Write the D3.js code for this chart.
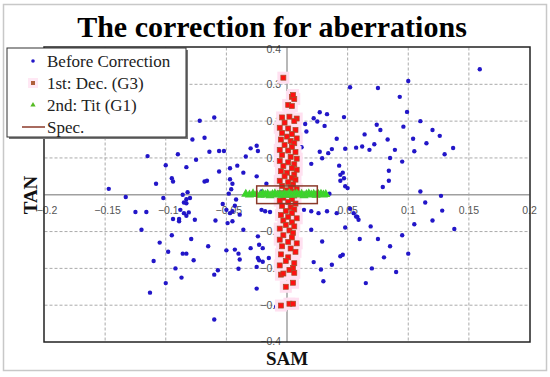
<!DOCTYPE html>
<html>
<head>
<meta charset="utf-8">
<script src="https://cdn.jsdelivr.net/npm/d3@7"></script>
<style>
  body { margin: 0; background: #fff; }
  svg { display: block; }
</style>
</head>
<body>
<div id="chart"></div>
<script>
// Tick values
const xTicks = [-0.2, -0.15, -0.1, -0.05, 0, 0.05, 0.1, 0.15, 0.2];
const yTicks = [-0.4, -0.3, -0.2, -0.1, 0, 0.1, 0.2, 0.3, 0.4];

// Before Correction (SAM, TAN)
const beforePts = [
  [-0.072,0.201],[-0.060,0.210],[-0.064,0.117],[-0.056,0.119],[-0.052,0.119],[-0.083,0.075],[-0.056,0.063],
  [-0.047,0.072],[-0.041,0.079],[-0.036,0.060],[-0.034,0.104],[-0.030,0.126],[-0.025,0.133],[-0.024,0.119],
  [-0.025,0.050],[-0.068,0.036],[-0.066,0.038],[-0.047,0.042],[-0.045,0.030],[-0.046,0.015],[-0.048,0.003],
  [-0.086,0.0],[-0.083,-0.012],[-0.085,-0.021],[-0.030,0.0],[-0.021,0.009],[-0.017,0.030],
  [0.052,0.292],[0.027,0.224],[0.033,0.219],[0.022,0.208],[0.025,0.199],[0.031,0.187],[0.015,0.192],
  [0.016,0.172],[0.047,0.211],[0.041,0.152],[0.074,0.190],[0.064,0.164],[0.072,0.137],[0.068,0.122],
  [0.062,0.131],[0.057,0.128],[0.048,0.125],[0.037,0.124],[0.034,0.113],[0.027,0.117],[0.012,0.129],
  [0.029,0.099],[0.020,0.084],[0.043,0.079],[0.046,0.060],[0.044,0.054],[0.047,0.045],[0.044,0.038],
  [0.048,0.023],[0.050,0.018],[0.035,0.003],
  [-0.080,-0.009],[-0.083,-0.023],[-0.085,-0.050],[-0.083,-0.057],[-0.089,-0.072],[-0.079,-0.120],
  [-0.086,-0.160],[-0.083,-0.160],[-0.077,-0.178],[-0.060,-0.217],[-0.057,-0.205],[-0.065,-0.140],
  [-0.060,-0.339],[-0.053,-0.025],[-0.050,-0.041],[-0.047,-0.050],[-0.045,-0.045],[-0.043,-0.030],
  [-0.042,-0.013],[-0.039,-0.054],[-0.049,-0.077],[-0.045,-0.072],[-0.059,-0.070],[-0.036,-0.095],
  [-0.050,-0.151],[-0.043,-0.149],[-0.040,-0.160],[-0.039,-0.176],[-0.040,-0.201],[-0.030,-0.145],
  [-0.024,-0.113],[-0.023,-0.136],[-0.020,-0.145],[-0.024,-0.172],[-0.023,-0.178],[-0.020,-0.182],
  [-0.025,-0.196],[-0.015,-0.172],[-0.025,-0.255],[-0.021,-0.041],[-0.018,-0.045],[-0.014,-0.047],
  [-0.009,-0.304],
  [0.020,-0.045],[0.026,-0.050],[0.014,-0.041],[0.033,-0.045],[0.041,-0.050],[0.020,-0.095],[0.029,-0.127],
  [0.048,-0.089],[0.058,-0.060],[0.059,-0.068],[0.052,-0.038],[0.055,-0.050],[0.069,-0.086],[0.060,-0.120],
  [0.046,-0.163],[0.044,-0.167],[0.037,-0.190],[0.028,-0.203],[0.022,-0.183],[0.030,-0.235],
  [-0.147,0.016],[-0.133,-0.006],[-0.125,-0.047],[-0.116,-0.047],[-0.102,-0.009],[-0.094,0.036],
  [-0.082,0.007],[-0.088,-0.041],[-0.081,-0.048],[-0.094,-0.066],[-0.089,-0.066],[-0.076,-0.068],
  [0.084,0.065],[0.084,0.038],[0.079,0.021],[0.110,0.009],[0.127,-0.003],[0.114,-0.021],[0.128,-0.043],
  [0.057,-0.059],[0.138,-0.093],
  [0.159,0.341],[0.100,0.309],[0.075,0.290],[0.093,0.266],[0.099,0.225],[0.110,0.200],[0.120,0.176],
  [0.126,0.160],[0.137,0.127],[0.089,0.122],[0.077,0.176],[0.083,0.150],[0.096,0.185],[0.104,0.152],
  [0.115,0.140],[0.085,0.100],[0.095,0.090],[0.105,0.118],[0.130,0.110],
  [-0.115,0.105],[-0.100,0.080],[-0.095,0.045],[-0.108,0.030],[-0.090,0.110],[-0.078,0.150],
  [-0.068,0.155],[-0.075,0.095],
  [-0.113,-0.266],[-0.095,-0.110],[-0.105,-0.130],[-0.098,-0.155],[-0.110,-0.180],[-0.092,-0.200],
  [-0.120,-0.095],[-0.100,-0.240],[-0.087,-0.225],
  [0.075,-0.120],[0.085,-0.140],[0.095,-0.110],[0.080,-0.170],[0.070,-0.200],[0.100,-0.160],
  [0.090,-0.210],[0.065,-0.240],[0.105,-0.080],[0.120,-0.070]
];

// 1st: Dec. (G3)
const decPts = [
  [-0.003,0.318],[0.004,0.266],[0.006,0.260],[0.005,0.271],[0.001,0.244],[0.004,0.241],[-0.004,0.210],
  [0.002,0.212],[0.008,0.207],[-0.002,0.196],[0.006,0.200],[-0.006,0.182],[0.001,0.180],[0.007,0.176],
  [-0.004,0.168],[0.004,0.165],[0.000,0.158],[0.008,0.153],[-0.005,0.150],[0.003,0.146],[0.006,0.140],
  [-0.002,0.135],[0.004,0.130],[-0.006,0.122],[0.001,0.120],[0.007,0.116],[-0.004,0.108],[0.003,0.103],
  [0.008,0.098],[-0.006,0.092],[0.001,0.088],[0.006,0.083],[-0.003,0.078],[0.004,0.072],[0.008,0.068],
  [-0.005,0.064],[0.000,0.060],[0.006,0.055],[-0.002,0.050],[0.004,0.046],[0.007,0.041],[-0.006,0.038],
  [0.001,0.034],[0.005,0.028],[-0.004,0.024],[0.003,0.020],[0.008,0.015],[-0.001,0.012],[0.004,0.008],
  [-0.005,0.004],[0.001,0.000],[0.006,-0.002],
  [-0.003,-0.008],[0.004,-0.012],[-0.006,-0.016],[0.001,-0.020],[0.007,-0.024],[-0.004,-0.030],
  [0.003,-0.034],[0.006,-0.040],[-0.001,-0.044],[0.004,-0.050],[-0.005,-0.055],[0.001,-0.060],
  [0.008,-0.064],[-0.003,-0.070],[0.004,-0.075],[-0.001,-0.082],[0.006,-0.086],[-0.006,-0.092],
  [0.002,-0.097],[0.005,-0.104],[-0.003,-0.110],[0.004,-0.116],[-0.006,-0.122],[0.001,-0.128],
  [0.008,-0.132],[-0.004,-0.140],[0.003,-0.146],[0.007,-0.155],[-0.005,-0.162],[0.001,-0.170],
  [-0.001,-0.180],[0.006,-0.186],[-0.006,-0.192],[0.005,-0.199],[0.002,-0.204],[-0.005,-0.217],
  [-0.003,-0.214],[0.006,-0.212],[0.005,-0.239],[-0.001,-0.250],[0.002,-0.296],[0.005,-0.296],
  [-0.005,-0.301]
];

// 2nd: Tit (G1)
const titPts = [
  [-0.034,0.002],[-0.031,0.000],[-0.028,0.003],[-0.025,0.001],[-0.022,-0.001],[-0.020,0.003],
  [-0.018,0.000],[-0.016,0.002],[-0.014,-0.002],[-0.012,0.001],[-0.010,0.003],[-0.008,0.000],
  [-0.006,0.002],[-0.004,-0.001],[-0.002,0.002],[0.000,0.000],[0.002,0.003],[0.004,-0.001],
  [0.006,0.001],[0.008,0.003],[0.010,0.000],[0.012,0.002],[0.014,-0.002],[0.016,0.001],
  [0.018,0.003],[0.020,0.000],[0.022,0.002],[0.024,-0.001],[0.026,0.001],[0.028,0.002],
  [0.030,0.000],[0.032,0.001]
];

// Spec. box (SAM, TAN limits)
const specX = [-0.025, 0.025];
const specY = [-0.024, 0.024];

const legendItems = ["Before Correction", "1st: Dec. (G3)", "2nd: Tit (G1)", "Spec."];

const W = 550, H = 377;
const svg = d3.select("#chart").append("svg").attr("width", W).attr("height", H);

// outer frame
svg.append("rect").attr("x", 3.5).attr("y", 4.5).attr("width", 543).attr("height", 366)
    .attr("fill", "#fff").attr("stroke", "#c8c8c8").attr("stroke-width", 1.5);

const x = d3.scaleLinear().domain([-0.2, 0.2]).range([44.5, 529.5]);
const y = d3.scaleLinear().domain([-0.4, 0.4]).range([342, 47.5]);

// grid
const grid = svg.append("g");
grid.selectAll(".gx").data(xTicks.slice(1, -1).filter(d => d !== 0)).join("line")
    .attr("x1", d => x(d)).attr("x2", d => x(d)).attr("y1", y(0.4)).attr("y2", y(-0.4))
    .attr("stroke", "#aaa").attr("stroke-dasharray", "3,2");
grid.selectAll(".gy").data(yTicks.slice(1, -1).filter(d => d !== 0)).join("line")
    .attr("y1", d => y(d)).attr("y2", d => y(d)).attr("x1", x(-0.2)).attr("x2", x(0.2))
    .attr("stroke", "#aaa").attr("stroke-dasharray", "3,2");

// zero axes
svg.append("line").attr("x1", x(-0.2)).attr("x2", x(0.2)).attr("y1", y(0)).attr("y2", y(0))
    .attr("stroke", "#a0a0a0").attr("stroke-width", 1.5);
svg.append("line").attr("x1", x(0)).attr("x2", x(0)).attr("y1", y(0.4)).attr("y2", y(-0.4))
    .attr("stroke", "#a0a0a0").attr("stroke-width", 1.5);

// tick labels
const fmt = d => d === 0 ? "0" : d3.format("")(d);
svg.append("g").selectAll("text").data(xTicks.filter(d => d !== 0)).join("text")
    .attr("x", d => x(d) + (d < 0 ? 2.5 : 0)).attr("y", y(0) + 19)
    .attr("text-anchor", "middle")
    .attr("font-family", "Liberation Sans, Arial, sans-serif").attr("font-size", 10.5)
    .attr("fill", "#555").text(fmt);
svg.append("g").selectAll("text").data(yTicks).join("text")
    .attr("x", x(0) - 6).attr("y", d => y(d) + (d === 0.4 ? 2 : d === -0.4 ? -1 : 0)).attr("dy", "0.35em")
    .attr("text-anchor", "end")
    .attr("font-family", "Liberation Sans, Arial, sans-serif").attr("font-size", 10.5)
    .attr("fill", "#555").text(fmt);

// before correction
svg.append("g").selectAll("circle").data(beforePts).join("circle")
    .attr("cx", d => x(d[0])).attr("cy", d => y(d[1])).attr("r", 2.2)
    .attr("fill", "#2216c8");

// dec: pink halo then squares
svg.append("g").selectAll("rect").data(decPts).join("rect")
    .attr("x", d => x(d[0]) - 6).attr("y", d => y(d[1]) - 6).attr("width", 12).attr("height", 12)
    .attr("fill", "#ffe0f0");
svg.append("g").selectAll("rect").data(decPts).join("rect")
    .attr("x", d => x(d[0]) - 2.5).attr("y", d => y(d[1]) - 2.5).attr("width", 5).attr("height", 5)
    .attr("fill", "#ff1010").attr("stroke", "#a0522d").attr("stroke-width", 0.7);

// tit: triangles
const tri = d3.symbol().type(d3.symbolTriangle).size(22);
svg.append("g").selectAll("path").data(titPts).join("path")
    .attr("transform", d => `translate(${x(d[0])},${y(d[1])})`)
    .attr("d", tri).attr("fill", "#33dd22").attr("stroke", "#44cc33").attr("stroke-width", 1.2);

// spec box
svg.append("rect")
    .attr("x", x(specX[0])).attr("y", y(specY[1]))
    .attr("width", x(specX[1]) - x(specX[0])).attr("height", y(specY[0]) - y(specY[1]))
    .attr("fill", "none").attr("stroke", "#8b3a2a").attr("stroke-width", 1.5);

// plot frame
svg.append("rect").attr("x", 44).attr("y", 47).attr("width", 486).attr("height", 295)
    .attr("fill", "none").attr("stroke", "#222").attr("stroke-width", 1.5);

// title and axis titles
svg.append("text").attr("x", 272).attr("y", 37).attr("text-anchor", "middle")
    .attr("font-family", "Liberation Serif, Times New Roman, serif").attr("font-weight", "bold")
    .attr("font-size", 30).attr("fill", "#000").text("The correction for aberrations");
svg.append("text").attr("x", 287).attr("y", 365).attr("text-anchor", "middle")
    .attr("font-family", "Liberation Serif, Times New Roman, serif").attr("font-weight", "bold")
    .attr("font-size", 19).attr("fill", "#111").text("SAM");
svg.append("text").attr("transform", "translate(37,195) rotate(-90)").attr("text-anchor", "middle")
    .attr("font-family", "Liberation Serif, Times New Roman, serif").attr("font-weight", "bold")
    .attr("font-size", 19).attr("fill", "#111").text("TAN");

// legend
const lg = svg.append("g");
lg.append("rect").attr("x", 9).attr("y", 50).attr("width", 179).attr("height", 89).attr("fill", "#777");
lg.append("rect").attr("x", 7).attr("y", 48).attr("width", 179).attr("height", 89)
    .attr("fill", "#fff").attr("stroke", "#333").attr("stroke-width", 1);
const rowY = [61, 83, 105, 127];
lg.selectAll("text").data(legendItems).join("text")
    .attr("x", 47).attr("y", (d, i) => rowY[i]).attr("dy", "0.35em")
    .attr("font-family", "Liberation Serif, Times New Roman, serif").attr("font-size", 17)
    .attr("fill", "#222").text(d => d);
lg.append("circle").attr("cx", 33).attr("cy", rowY[0]).attr("r", 1.8).attr("fill", "#2216c8");
lg.append("rect").attr("x", 28).attr("y", rowY[1] - 5).attr("width", 10).attr("height", 10).attr("fill", "#ffe8f4");
lg.append("rect").attr("x", 31).attr("y", rowY[1] - 2).attr("width", 4).attr("height", 4)
    .attr("fill", "#b0603a");
lg.append("path").attr("transform", `translate(33,${rowY[2]})`)
    .attr("d", d3.symbol().type(d3.symbolTriangle).size(12)).attr("fill", "#55bb22");
lg.append("line").attr("x1", 22).attr("x2", 45).attr("y1", rowY[3]).attr("y2", rowY[3])
    .attr("stroke", "#8b3a2a").attr("stroke-width", 1.5);
</script>
</body>
</html>
